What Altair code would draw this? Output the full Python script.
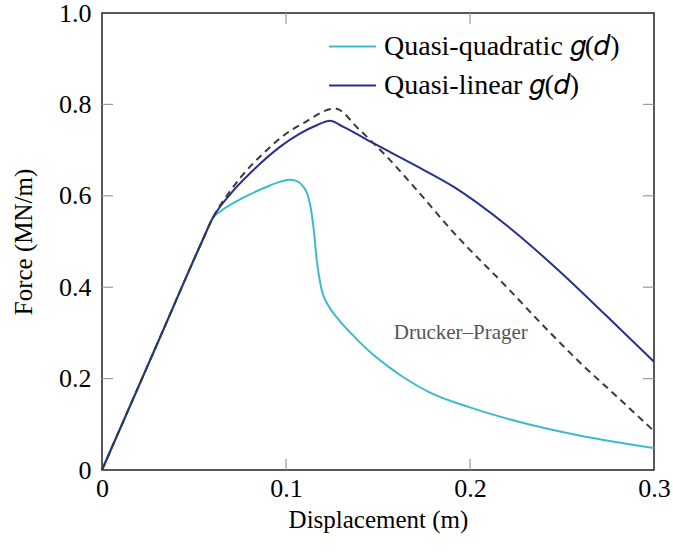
import altair as alt
import pandas as pd

# ---------------- data ----------------
series_names = ["Quasi-quadratic 𝑔(𝑑)", "Quasi-linear 𝑔(𝑑)"]

quad_x = [0, 0.03, 0.055, 0.06, 0.065, 0.075, 0.088, 0.097, 0.102, 0.106, 0.1094,
          0.1115, 0.113, 0.1149, 0.1167, 0.1194, 0.123, 0.1284, 0.138, 0.1457,
          0.156, 0.1638, 0.178, 0.2, 0.227, 0.26, 0.3]
quad_y = [0, 0.276, 0.506, 0.55, 0.568, 0.592, 0.617, 0.631, 0.635, 0.632, 0.62,
          0.605, 0.583, 0.532, 0.46, 0.394, 0.36, 0.33, 0.288, 0.258,
          0.225, 0.203, 0.170, 0.137, 0.105, 0.075, 0.048]

lin_x = [0, 0.03, 0.055, 0.06, 0.07, 0.0822, 0.0967, 0.1075, 0.117, 0.1239, 0.1312,
         0.1475, 0.171, 0.191, 0.22, 0.247, 0.274, 0.3]
lin_y = [0, 0.276, 0.506, 0.55, 0.605, 0.656, 0.707, 0.736, 0.755, 0.764, 0.751,
         0.715, 0.665, 0.620, 0.535, 0.441, 0.338, 0.237]

dp_x = [0, 0.03, 0.055, 0.06, 0.0696, 0.0759, 0.0877, 0.1004, 0.1094, 0.1266, 0.140,
        0.1547, 0.171, 0.191, 0.22, 0.2417, 0.2616, 0.28, 0.3]
dp_y = [0, 0.276, 0.506, 0.55, 0.61, 0.643, 0.693, 0.737, 0.759, 0.791, 0.744,
        0.686, 0.613, 0.52, 0.400, 0.308, 0.228, 0.16, 0.085]

label_x = [0.195]
label_y = [0.30]
label_text = ["Drucker–Prager"]

x_ticks = [0, 0.1, 0.2, 0.3]
y_ticks = [0, 0.2, 0.4, 0.6, 0.8, 1.0]
inner_x_ticks = [0.1, 0.2]
inner_y_ticks = [0.2, 0.4, 0.6, 0.8]

# ---------------- tables ----------------
df = pd.concat([
    pd.DataFrame({"x": quad_x, "y": quad_y, "series": series_names[0]}),
    pd.DataFrame({"x": lin_x, "y": lin_y, "series": series_names[1]}),
], ignore_index=True)
dp_df = pd.DataFrame({"x": dp_x, "y": dp_y})
lab_df = pd.DataFrame({"x": label_x, "y": label_y, "text": label_text})
xt_df = pd.DataFrame({"x": inner_x_ticks})
yt_df = pd.DataFrame({"y": inner_y_ticks})

W, H = 552, 457
FONT = "Liberation Serif"
CYAN = "#3dbbc9"
NAVY = "#26318f"
TICK = "#9a9a9a"
TL = 11

xs = alt.Scale(domain=[0, 0.3], nice=False, zero=False)
ys = alt.Scale(domain=[0, 1.0], nice=False, zero=False)
lab_expr = "datum.value == 0 ? '0' : format(datum.value, '.1f')"

x_enc = alt.X("x:Q", scale=xs, title="Displacement (m)",
              axis=alt.Axis(values=x_ticks, labelExpr=lab_expr, labelFlush=False))
y_enc = alt.Y("y:Q", scale=ys, title="Force (MN/m)",
              axis=alt.Axis(values=y_ticks, labelExpr=lab_expr, labelFlush=False))

lines = alt.Chart(df).mark_line(strokeWidth=2, interpolate="monotone").encode(
    x=x_enc,
    y=y_enc,
    color=alt.Color(
        "series:N",
        scale=alt.Scale(domain=series_names, range=[CYAN, NAVY]),
        legend=alt.Legend(
            title=None, orient="none", legendX=226, legendY=9,
            symbolType="stroke", symbolSize=2200, symbolStrokeWidth=2,
            labelFont=FONT, labelFontSize=28, labelColor="black",
            labelOffset=7, rowPadding=-9, padding=0, labelLimit=400,
        ),
    ),
)

dp = alt.Chart(dp_df).mark_line(
    strokeWidth=2, strokeDash=[7, 5], color="#3a3a3a", interpolate="monotone"
).encode(x=alt.X("x:Q", scale=xs), y=alt.Y("y:Q", scale=ys))

label = alt.Chart(lab_df).mark_text(
    font=FONT, fontSize=21, color="#555555", align="center", baseline="middle"
).encode(x=alt.X("x:Q", scale=xs), y=alt.Y("y:Q", scale=ys), text="text:N")

tick_bottom = alt.Chart(xt_df).mark_rule(color=TICK, strokeWidth=1.2).encode(
    x=alt.X("x:Q", scale=xs), y=alt.value(H), y2=alt.value(H - TL))
tick_top = alt.Chart(xt_df).mark_rule(color=TICK, strokeWidth=1.2).encode(
    x=alt.X("x:Q", scale=xs), y=alt.value(0), y2=alt.value(TL))
tick_left = alt.Chart(yt_df).mark_rule(color=TICK, strokeWidth=1.2).encode(
    y=alt.Y("y:Q", scale=ys), x=alt.value(0), x2=alt.value(TL))
tick_right = alt.Chart(yt_df).mark_rule(color=TICK, strokeWidth=1.2).encode(
    y=alt.Y("y:Q", scale=ys), x=alt.value(W), x2=alt.value(W - TL))

chart = alt.layer(
    tick_bottom, tick_top, tick_left, tick_right, lines, dp, label
).properties(
    width=W, height=H,
    autosize=alt.AutoSizeParams(type="none"),
    padding={"left": 102, "top": 13, "right": 19, "bottom": 84},
).configure_view(
    stroke="#222222", strokeWidth=1.5
).configure_axis(
    domain=False, ticks=False, grid=False,
    labelFont=FONT, labelFontSize=26, labelColor="black",
    titleFont=FONT, titleFontSize=25, titleFontWeight="normal", titleColor="black",
).configure_axisX(
    labelPadding=5, titlePadding=6,
).configure_axisY(
    labelPadding=11, titlePadding=22,
)

chart.save("out.html", embed_options={"renderer": "svg", "actions": False})
